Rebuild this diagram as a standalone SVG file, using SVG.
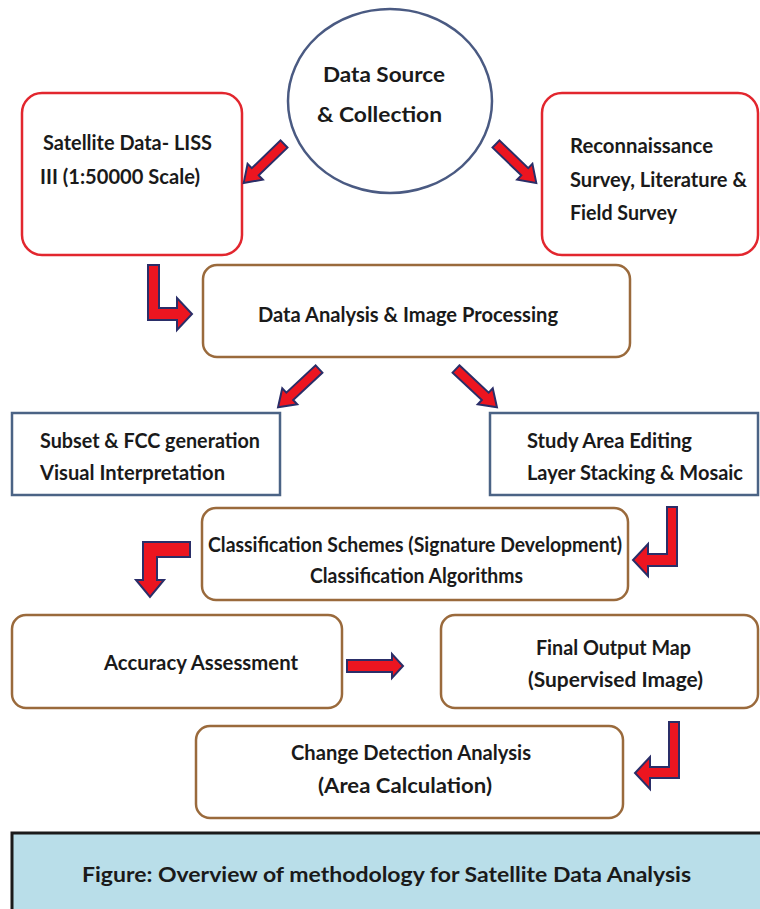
<svg xmlns="http://www.w3.org/2000/svg" width="760" height="909" viewBox="0 0 760 909">
<style>
  .t{font-family:Lato,"Liberation Sans",sans-serif;font-weight:bold;font-size:21px;fill:#1a1a1a}
  .red{fill:#fff;stroke:#e2262e;stroke-width:2.5}
  .brown{fill:#fff;stroke:#9a6a3c;stroke-width:2.5}
  .blue{fill:#fff;stroke:#4b6385;stroke-width:2.5}
  .arr{fill:#ec1520;stroke:#2a2e68;stroke-width:2;stroke-linejoin:miter}
</style>
<defs>
  <path id="diag" d="M0,-5 H40 V-11 L56,0 L40,11 V5 H0 Z"/>
</defs>
<rect width="760" height="909" fill="#fff"/>

<g id="n-source">
  <ellipse cx="390" cy="101" rx="102" ry="92" fill="#fff" stroke="#4a5a82" stroke-width="2.5"/>
  <text class="t" x="323" y="82" font-size="23" textLength="122" lengthAdjust="spacingAndGlyphs">Data Source</text>
  <text class="t" x="317" y="122" font-size="23" textLength="125" lengthAdjust="spacingAndGlyphs">&amp; Collection</text>
</g>
<g id="n-satellite">
  <rect class="red" x="22" y="93" width="220" height="162" rx="20"/>
  <text class="t" x="43" y="150" textLength="169" lengthAdjust="spacingAndGlyphs">Satellite  Data- LISS</text>
  <text class="t" x="40" y="184" textLength="160" lengthAdjust="spacingAndGlyphs">III (1:50000  Scale)</text>
</g>
<g id="n-recon">
  <rect class="red" x="542" y="93" width="216" height="162" rx="20"/>
  <text class="t" x="570" y="153" textLength="143" lengthAdjust="spacingAndGlyphs">Reconnaissance</text>
  <text class="t" x="570" y="187" textLength="177" lengthAdjust="spacingAndGlyphs">Survey, Literature &amp;</text>
  <text class="t" x="570" y="220" textLength="107" lengthAdjust="spacingAndGlyphs">Field Survey</text>
</g>
<g id="n-analysis">
  <rect class="brown" x="203" y="265" width="427" height="92" rx="14"/>
  <text class="t" x="258" y="322" textLength="300" lengthAdjust="spacingAndGlyphs">Data Analysis &amp; Image Processing</text>
</g>
<g id="n-subset">
  <rect class="blue" x="12" y="413" width="268" height="82"/>
  <text class="t" x="40" y="448" textLength="220" lengthAdjust="spacingAndGlyphs">Subset &amp; FCC  generation</text>
  <text class="t" x="40" y="480" textLength="185" lengthAdjust="spacingAndGlyphs">Visual Interpretation</text>
</g>
<g id="n-study">
  <rect class="blue" x="490" y="413" width="268" height="82"/>
  <text class="t" x="527" y="448" textLength="165" lengthAdjust="spacingAndGlyphs">Study Area Editing</text>
  <text class="t" x="527" y="480" textLength="216" lengthAdjust="spacingAndGlyphs">Layer Stacking  &amp; Mosaic</text>
</g>
<g id="n-classification">
  <rect class="brown" x="202" y="508" width="426" height="92" rx="14"/>
  <text class="t" x="208" y="552" textLength="414" lengthAdjust="spacingAndGlyphs">Classification Schemes (Signature Development)</text>
  <text class="t" x="310" y="583" textLength="213" lengthAdjust="spacingAndGlyphs">Classification Algorithms</text>
</g>
<g id="n-accuracy">
  <rect class="brown" x="12" y="615" width="330" height="93" rx="14"/>
  <text class="t" x="104" y="670" textLength="194" lengthAdjust="spacingAndGlyphs">Accuracy Assessment</text>
</g>
<g id="n-final">
  <rect class="brown" x="441" y="615" width="317" height="93" rx="14"/>
  <text class="t" x="536" y="655" textLength="155" lengthAdjust="spacingAndGlyphs">Final Output Map</text>
  <text class="t" x="528" y="687" textLength="175" lengthAdjust="spacingAndGlyphs">(Supervised  Image)</text>
</g>
<g id="n-change">
  <rect class="brown" x="196" y="726" width="427" height="92" rx="14"/>
  <text class="t" x="291" y="760" textLength="240" lengthAdjust="spacingAndGlyphs">Change Detection Analysis</text>
  <text class="t" x="318" y="793" textLength="174" lengthAdjust="spacingAndGlyphs">(Area Calculation)</text>
</g>
<g id="n-caption">
  <rect x="12" y="833" width="760" height="90" fill="#b9dee9" stroke="#1a1a1a" stroke-width="3"/>
  <text class="t" x="82" y="882" font-size="23" textLength="609" lengthAdjust="spacingAndGlyphs">Figure: Overview of methodology for Satellite Data Analysis</text>
</g>

<g id="connectors">
  <use href="#diag" class="arr" transform="translate(284,144) rotate(136)"/>
  <use href="#diag" class="arr" transform="translate(496,144) rotate(44)"/>
  <use href="#diag" class="arr" transform="translate(319,369) rotate(137)"/>
  <use href="#diag" class="arr" transform="translate(456,369) rotate(43)"/>
  <path class="arr" d="M148,265 H159 V308 H177 V298 L192,314 L177,330 V320 H148 Z"/>
  <path class="arr" d="M667,507 H677 V566 H648 V576 L633,560 L648,544 V554 H667 Z"/>
  <path class="arr" d="M190,542 V557 H157 V580 H164 L150,597 L136,580 H143 V542 Z"/>
  <path class="arr" d="M347,660 H392 V654 L403,666 L392,678 V672 H347 Z"/>
  <path class="arr" d="M669,722 H679 V778 H650 V789 L635,773 L650,757 V767 H669 Z"/>
</g>
</svg>
